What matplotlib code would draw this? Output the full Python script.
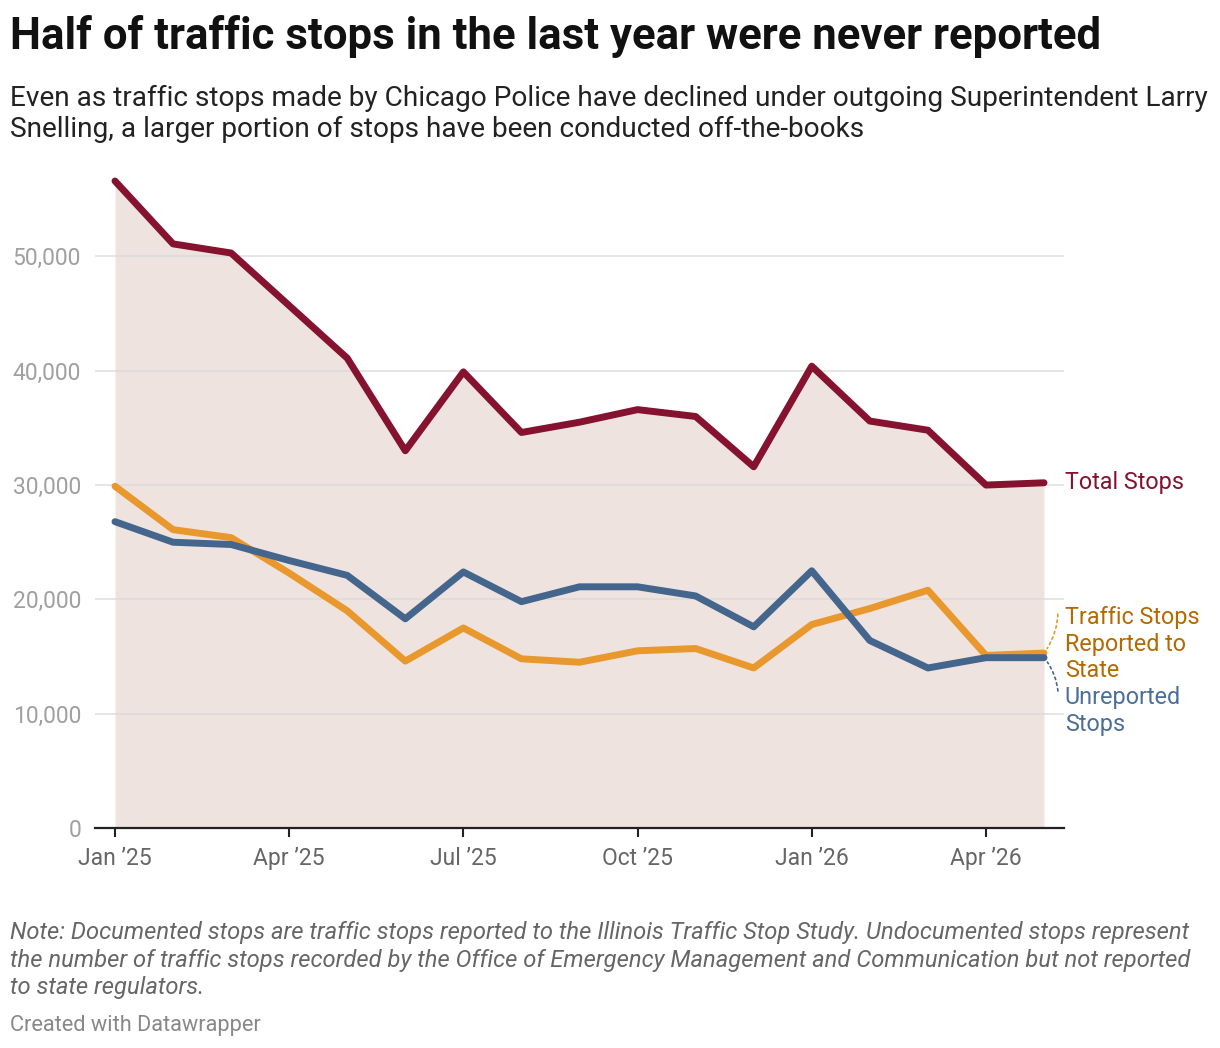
import matplotlib
matplotlib.use("Agg")
from matplotlib import pyplot as plt

plt.rcParams['font.family'] = ['Roboto', 'DejaVu Sans']

# monthly values, Jan 2025 - May 2026
months = ["Jan \u201925", "Feb \u201925", "Mar \u201925", "Apr \u201925", "May \u201925", "Jun \u201925",
          "Jul \u201925", "Aug \u201925", "Sep \u201925", "Oct \u201925", "Nov \u201925", "Dec \u201925",
          "Jan \u201926", "Feb \u201926", "Mar \u201926", "Apr \u201926", "May \u201926"]
total_stops = [56600, 51100, 50300, 45700, 41100, 33000, 39900, 34600, 35500,
               36600, 36000, 31600, 40400, 35600, 34800, 30000, 30200]
reported = [29900, 26100, 25400, 22300, 19000, 14600, 17500, 14800, 14500,
            15500, 15700, 14000, 17800, 19200, 20800, 15100, 15300]
unreported = [26800, 25000, 24800, 23400, 22100, 18300, 22400, 19800, 21100,
              21100, 20300, 17600, 22500, 16400, 14000, 14900, 14900]
tick_idx = [0, 3, 6, 9, 12, 15]
ytick_vals = [0, 10000, 20000, 30000, 40000, 50000]

c_total = '#85132f'
c_rep = '#e8982c'
c_rep_txt = '#b46a00'
c_unrep = '#44668c'
c_unrep_txt = '#4c6f97'

fig = plt.figure(figsize=(12.2, 10.48), dpi=100)
ax = fig.add_axes([95 / 1220, 220 / 1048, (1064 - 95) / 1220, (828 - 165) / 1048])

x = list(range(len(months)))
ax.fill_between(x, 0, total_stops, color='#efe3e0', lw=0, zorder=1)
for v in ytick_vals[1:]:
    ax.axhline(v, color='#d8d8d8', lw=1.2, alpha=0.75, zorder=2)

lw = 5
ax.plot(x, total_stops, color=c_total, lw=lw, solid_capstyle='round', solid_joinstyle='round', zorder=5)
ax.plot(x, reported, color=c_rep, lw=lw, solid_capstyle='round', solid_joinstyle='round', zorder=4)
ax.plot(x, unreported, color=c_unrep, lw=lw, solid_capstyle='round', solid_joinstyle='round', zorder=4)

ax.set_xlim(-0.344, 16.344)
ax.set_ylim(0, 58000)
ax.set_xticks(tick_idx)
ax.set_xticklabels([months[i] for i in tick_idx], color='#666666', fontsize=16.5)
ax.set_yticks(ytick_vals)
ax.set_yticklabels([f"{v:,}" for v in ytick_vals], color='#a0a0a0', fontsize=16.5)
ax.tick_params(axis='y', length=0, pad=10)
ax.tick_params(axis='x', length=6.5, width=1.5, color='#222222', pad=7)
for s in ['top', 'right', 'left']:
    ax.spines[s].set_visible(False)
ax.spines['bottom'].set_color('#222222')
ax.spines['bottom'].set_linewidth(1.6)
ax.spines['bottom'].set_zorder(6)

# line labels
last = len(months) - 1
lab_fs = 16.8
ax.annotate("Total Stops", xy=(last, total_stops[-1]), xytext=(15, 0),
            textcoords='offset points', va='center', ha='left', fontsize=lab_fs, color=c_total)
ax.annotate("Traffic Stops\nReported to\nState", xy=(last, reported[-1]), xytext=(15, 6.5),
            textcoords='offset points', va='center', ha='left', fontsize=lab_fs, color=c_rep_txt,
            linespacing=1.2)
ax.annotate("Unreported\nStops", xy=(last, unreported[-1]), xytext=(15, -38.5),
            textcoords='offset points', va='center', ha='left', fontsize=lab_fs, color=c_unrep_txt,
            linespacing=1.2)
ax.annotate("", xy=(last, reported[-1]), xytext=(10, 28), textcoords='offset points',
            arrowprops=dict(arrowstyle='-', color=c_rep, lw=1.2, linestyle=(0, (1.5, 2)),
                            connectionstyle='arc3,rad=-0.15', shrinkA=0, shrinkB=4))
ax.annotate("", xy=(last, unreported[-1]), xytext=(10, -24), textcoords='offset points',
            arrowprops=dict(arrowstyle='-', color=c_unrep, lw=1.2, linestyle=(0, (1.5, 2)),
                            connectionstyle='arc3,rad=0.15', shrinkA=0, shrinkB=4))

# header
fig.text(10 / 1220, 1 - 36 / 1048, "Half of traffic stops in the last year were never reported",
         fontsize=31.5, fontweight='bold', va='center', ha='left', color='#111111')
fig.text(10 / 1220, 1 - 114 / 1048,
         "Even as traffic stops made by Chicago Police have declined under outgoing Superintendent Larry\n"
         "Snelling, a larger portion of stops have been conducted off-the-books",
         fontsize=20.15, va='center', ha='left', color='#222222', linespacing=1.15)

# footer
fig.text(10 / 1220, 1 - 960 / 1048,
         "Note: Documented stops are traffic stops reported to the Illinois Traffic Stop Study. Undocumented stops represent\n"
         "the number of traffic stops recorded by the Office of Emergency Management and Communication but not reported\n"
         "to state regulators.",
         fontsize=17.15, style='italic', va='center', ha='left', color='#666666', linespacing=1.25)
fig.text(10 / 1220, 1 - 1025 / 1048, "Created with Datawrapper",
         fontsize=15.7, va='center', ha='left', color='#888888')

fig.savefig("out.png", dpi=100)
